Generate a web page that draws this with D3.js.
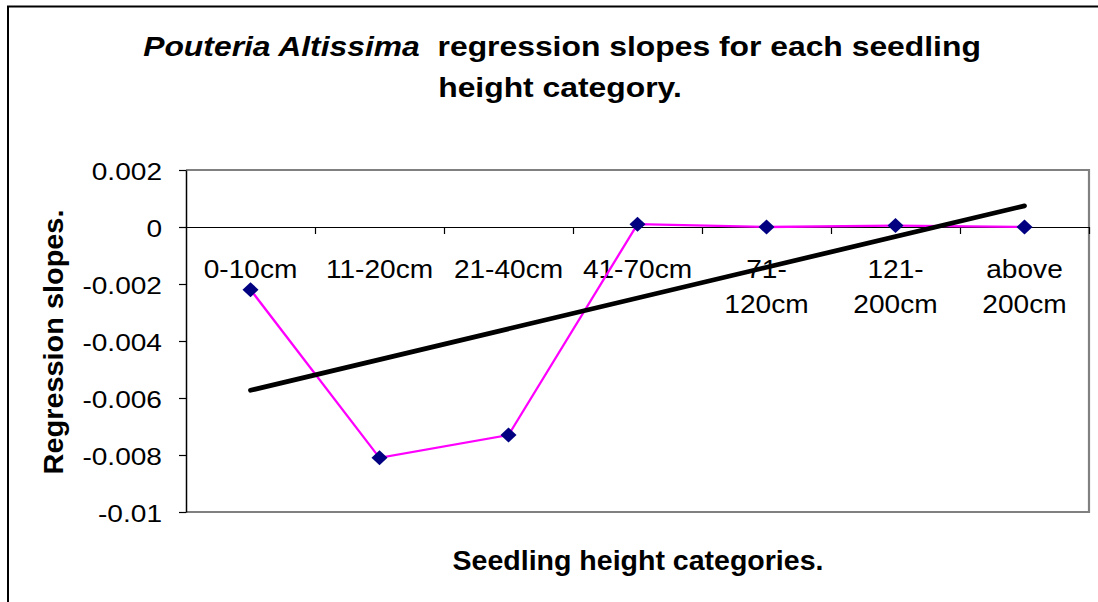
<!DOCTYPE html>
<html><head><meta charset="utf-8">
<script src="https://cdn.jsdelivr.net/npm/d3@7"></script>
<style>body{margin:0;background:#fff}svg{display:block}text{font-family:"Liberation Sans",Arial,sans-serif;fill:#000}</style>
</head><body><svg id="c" width="1098" height="602"></svg>
<script>
const categories = [["0-10cm"],["11-20cm"],["21-40cm"],["41-70cm"],["71-","120cm"],["121-","200cm"],["above","200cm"]];
const slopes = [-0.0022, -0.0081, -0.0073, 0.0001, 0.0, 0.00005, 0.0];
const yTicks = [0.002, 0, -0.002, -0.004, -0.006, -0.008, -0.01];
const yTickLabels = ["0.002","0","-0.002","-0.004","-0.006","-0.008","-0.01"];

const svg = d3.select("#c");
const L = 186, R = 1089, T = 170, B = 512;

// outer border
svg.append("rect").attr("x",8).attr("y",6.5).attr("width",1200).attr("height",700)
  .attr("fill","#fff").attr("stroke","#000").attr("stroke-width",2);

const x = d3.scaleBand().domain(d3.range(categories.length)).range([L,R]).padding(0);
const xb = d3.scaleLinear().domain([0,categories.length]).range([L,R]);
const y = d3.scaleLinear().domain([-0.01,0.002]).range([B,T]);

// plot area border (gray)
svg.append("path").attr("d",`M${L},${T}H${R}V${B}H${L}`).attr("fill","none")
  .attr("stroke","#808080").attr("stroke-width",2.2);

// y axis
const ya = svg.append("g").attr("transform",`translate(${L},0)`)
  .call(d3.axisLeft(y).tickValues(yTicks).tickFormat((d,i)=>yTickLabels[i]).tickSizeInner(7).tickSizeOuter(0));
ya.select(".domain").attr("stroke","#000").attr("stroke-width",1.5);
ya.selectAll(".tick line").attr("stroke","#000").attr("stroke-width",1.2);
ya.selectAll(".tick text").attr("font-size",24).attr("font-family","Liberation Sans, Arial").attr("fill","#000")
  .attr("x",0).attr("dy","0.38em").attr("transform","translate(-24,0) scale(1.17,1)");

// x axis at zero
const xa = svg.append("g").attr("transform",`translate(0,${y(0)})`)
  .call(d3.axisBottom(xb).tickValues(d3.range(1,categories.length+1)).tickFormat("").tickSizeInner(7).tickSizeOuter(0));
xa.select(".domain").attr("stroke","#000").attr("stroke-width",1.2);
xa.selectAll(".tick line").attr("stroke","#000").attr("stroke-width",1.2);

// category labels
const cl = svg.append("g").selectAll("text").data(categories).join("text")
  .attr("text-anchor","middle").attr("font-size",26.5)
  .attr("transform",(d,i)=>`translate(${x(i)+x.bandwidth()/2},${y(0)+51}) scale(1.06,1)`);
cl.selectAll("tspan").data(d=>d).join("tspan")
  .attr("x",0).attr("dy",(d,i)=>i===0?0:35).text(d=>d);

// trendline (least squares)
const xs = slopes.map((d,i)=>i+1);
const mx = d3.mean(xs), my = d3.mean(slopes);
const b = d3.sum(xs,(v,i)=>(v-mx)*(slopes[i]-my))/d3.sum(xs,v=>(v-mx)*(v-mx));
const a = my - b*mx;
const cx = i => x(i)+x.bandwidth()/2;

// series line
svg.append("path").datum(slopes)
  .attr("d",d3.line().x((d,i)=>cx(i)).y(d=>y(d)))
  .attr("fill","none").attr("stroke","#ff00ff").attr("stroke-width",2.3);

svg.append("line")
  .attr("x1",cx(0)).attr("y1",y(a+b*1))
  .attr("x2",cx(categories.length-1)).attr("y2",y(a+b*categories.length))
  .attr("stroke","#000").attr("stroke-width",4.8).attr("stroke-linecap","round");

// markers
svg.append("g").selectAll("path").data(slopes).join("path")
  .attr("transform",(d,i)=>`translate(${cx(i)},${y(d)})`)
  .attr("d","M0,-7.5L8,0L0,7.5L-8,0Z").attr("fill","#000080");

// title
const t = svg.append("text").attr("text-anchor","middle").attr("font-size",27).attr("font-weight","bold")
  .attr("transform","translate(562,56) scale(1.18,1)");
t.append("tspan").attr("font-style","italic").text("Pouteria Altissima");
t.append("tspan").text("\u00a0 regression slopes for each seedling");
svg.append("text").attr("text-anchor","middle").attr("font-size",27).attr("font-weight","bold")
  .attr("transform","translate(560,97) scale(1.18,1)").text("height category.");

// axis titles
svg.append("text").attr("text-anchor","middle").attr("font-size",27).attr("font-weight","bold")
  .attr("transform","translate(63,342) rotate(-90) scale(1.07,1)").text("Regression slopes.");
svg.append("text").attr("text-anchor","middle").attr("font-size",27).attr("font-weight","bold")
  .attr("transform","translate(638,570) scale(1.057,1)").text("Seedling height categories.");
</script></body></html>
